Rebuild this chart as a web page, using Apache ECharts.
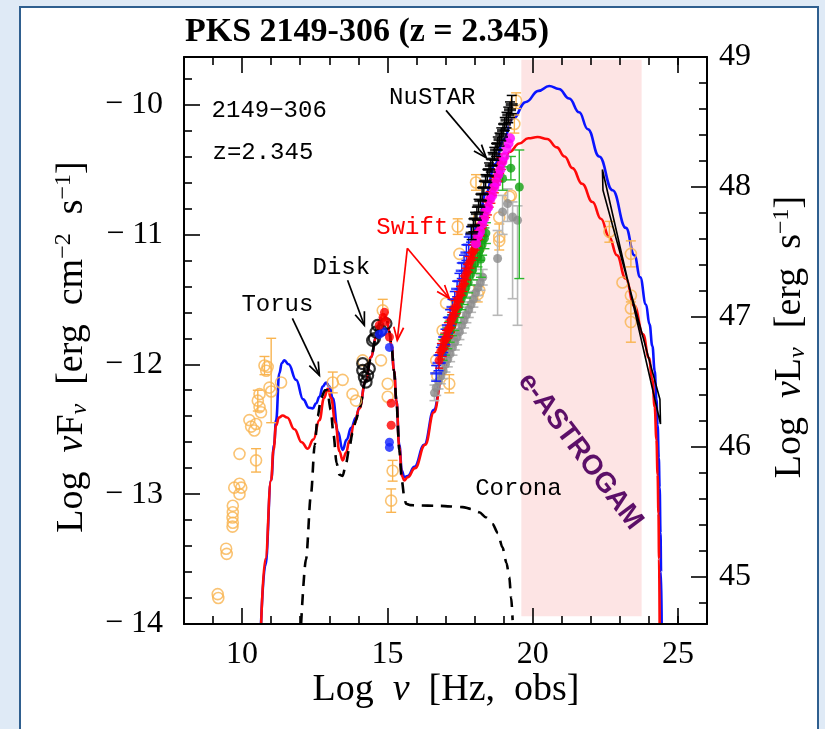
<!DOCTYPE html>
<html><head><meta charset="utf-8">
<script src="https://cdn.jsdelivr.net/npm/echarts@6/dist/echarts.min.js"></script>
<style>
html,body{margin:0;padding:0;background:#dfeaf6;width:825px;height:729px;overflow:hidden;}
#frame{position:absolute;left:19px;top:6px;width:800px;height:740px;background:#fff;border:2px solid #2f5f8f;box-sizing:border-box;}
#chart{position:absolute;left:0;top:0;width:825px;height:729px;}
</style></head><body><div id="frame"></div><div id="chart"></div>
<script>
// ---------- axis ranges & ticks ----------
const xRange = [8, 26];
const yRange = [-14, -9.634];
const lumOffset = 58.634;            // Log nuL_nu = Log nuF_nu + offset
const xMajorTicks = [10, 15, 20, 25];
const xMinorTicks = [9, 11, 12, 13, 14, 16, 17, 18, 19, 21, 22, 23, 24, 25];
const yLeftMajor = [-14, -13, -12, -11, -10];
const yLeftMinor = [-13.8, -13.6, -13.4, -13.2, -12.8, -12.6, -12.4, -12.2, -11.8, -11.6, -11.4, -11.2, -10.8, -10.6, -10.4, -10.2, -9.8];
const yRightMajor = [45, 46, 47, 48, 49];
const yRightMinor = [44.8, 45.2, 45.4, 45.6, 45.8, 46.2, 46.4, 46.6, 46.8, 47.2, 47.4, 47.6, 47.8, 48.2, 48.4, 48.6, 48.8];

// ---------- e-ASTROGAM band [x0, x1, y0, y1] ----------
const astrogamBand = [[19.61, 23.75, -13.94, -9.655]];

// ---------- models ----------
const modelBlue = [
  [10.65,-14.0],[10.8,-13.55],[11.0,-12.89],[11.1,-12.62],[11.17,-12.43],[11.28,-12.07],[11.37,-11.99],[11.455,-11.97],
  [11.6,-12.0],[11.86,-12.12],[12.1,-12.27],[12.3,-12.335],[12.43,-12.34],[12.55,-12.3],[12.66,-12.25],[12.78,-12.17],
  [12.89,-12.14],[13.0,-12.17],[13.12,-12.26],[13.3,-12.52],[13.46,-12.66],[13.6,-12.58],[13.75,-12.49],[13.92,-12.41],
  [14.04,-12.33],[14.25,-12.13],[14.44,-11.945],[14.61,-11.79],[14.78,-11.64],[14.88,-11.62],[14.98,-11.66],[15.07,-11.75],
  [15.14,-11.86],[15.23,-12.05],[15.31,-12.28],[15.41,-12.62],[15.5,-12.82],[15.58,-12.87],[15.7,-12.86],[15.93,-12.79],
  [16.27,-12.62],[16.6,-12.35],[16.9,-12.05],[17.2,-11.76],[17.5,-11.48],[17.8,-11.2],[18.1,-10.93],[18.4,-10.68],
  [18.7,-10.46],[19.0,-10.27],[19.31,-10.11],[19.77,-9.98],[20.2,-9.895],[20.57,-9.857],[20.9,-9.88],[21.26,-9.954],
  [21.6,-10.06],[21.9,-10.19],[22.29,-10.4],[22.75,-10.66],[23.21,-10.95],[23.5,-11.16],[23.7,-11.33],[23.9,-11.54],
  [24.02,-11.69],[24.12,-11.86],[24.2,-12.05],[24.26,-12.27],[24.3,-12.47],[24.34,-12.72],[24.37,-12.95],[24.4,-13.3],
  [24.42,-13.6],[24.44,-14.0]
];
const modelRed = [
  [10.654,-14.0],[10.8,-13.5],[10.998,-12.894],[11.08,-12.66],[11.17,-12.47],[11.27,-12.41],[11.397,-12.394],[11.55,-12.41],
  [11.8,-12.5],[12.05,-12.6],[12.257,-12.65],[12.45,-12.58],[12.66,-12.43],[12.82,-12.26],[12.945,-12.188],[13.06,-12.26],
  [13.21,-12.45],[13.35,-12.67],[13.46,-12.74],[13.58,-12.68],[13.69,-12.59],[13.86,-12.46],[14.035,-12.34],[14.25,-12.13],
  [14.44,-11.945],[14.61,-11.79],[14.78,-11.64],[14.88,-11.62],[14.98,-11.66],[15.07,-11.75],[15.14,-11.86],[15.23,-12.05],
  [15.31,-12.28],[15.41,-12.64],[15.5,-12.86],[15.58,-12.894],[15.7,-12.87],[15.95,-12.8],[16.3,-12.62],[16.6,-12.37],
  [16.9,-12.08],[17.2,-11.8],[17.5,-11.55],[17.8,-11.3],[18.1,-11.06],[18.4,-10.83],[18.7,-10.63],[19.0,-10.46],
  [19.2,-10.365],[19.54,-10.3],[19.85,-10.26],[20.17,-10.25],[20.5,-10.265],[20.83,-10.33],[21.1,-10.4],[21.37,-10.49],
  [21.7,-10.61],[22.06,-10.75],[22.35,-10.88],[22.635,-11.02],[22.9,-11.16],[23.2,-11.34],[23.5,-11.55],[23.8,-11.77],
  [24.0,-11.95],[24.12,-12.12],[24.2,-12.33],[24.26,-12.58],[24.3,-12.85],[24.33,-13.15],[24.35,-13.5],[24.37,-14.0]
];
const modelComponents = [
  [12.03,-14.0],[12.2,-13.5],[12.37,-13.0],[12.5,-12.62],[12.6,-12.4],[12.72,-12.26],[12.85,-12.2],[12.93,-12.2],
  [13.05,-12.35],[13.15,-12.55],[13.25,-12.76],[13.35,-12.85],[13.46,-12.86],[13.58,-12.76],[13.69,-12.64],[13.8,-12.53],
  [13.92,-12.43],[14.035,-12.34],[14.25,-12.13],[14.44,-11.945],[14.61,-11.79],[14.78,-11.64],[14.88,-11.62],[14.98,-11.66],
  [15.07,-11.75],[15.14,-11.86],[15.23,-12.05],[15.31,-12.28],[15.41,-12.66],[15.5,-12.9],[15.58,-13.02],[15.64,-13.074],
  [15.8,-13.085],[15.985,-13.087],[16.79,-13.09],[17.59,-13.1],[17.9,-13.115],[18.16,-13.14],[18.4,-13.18],[18.62,-13.23],
  [18.8,-13.3],[18.96,-13.41],[19.1,-13.53],[19.195,-13.64],[19.26,-13.8],[19.31,-13.97]
];
const fermiBowtie = [[22.40,-10.50],[24.40,-12.46],[24.38,-12.27],[22.42,-10.66],[22.40,-10.50]];

// ---------- data: [x, y, errLow, errHigh] ----------
const archival = [
  [9.16,-13.77,null,null],[9.18,-13.8,null,null],[9.45,-13.42,null,null],[9.47,-13.46,null,null],
  [9.68,-13.09,null,null],[9.68,-13.14,null,null],[9.67,-13.18,null,null],[9.68,-13.22,null,null],[9.67,-13.25,null,null],
  [9.73,-12.95,null,null],[9.91,-12.92,null,null],[9.97,-12.95,null,null],[9.91,-13.0,null,null],[9.91,-12.69,null,null],
  [10.25,-12.43,null,null],[10.31,-12.48,null,null],[10.42,-12.51,null,null],[10.48,-12.46,null,null],
  [10.48,-12.74,-12.83,-12.65],[10.54,-12.28,-12.36,-12.2],[10.6,-12.23,null,null],[10.6,-12.33,null,null],
  [10.65,-12.37,null,null],[10.77,-12.01,-12.08,-11.94],[10.83,-12.05,null,null],[10.88,-12.02,null,null],
  [10.94,-12.18,null,null],[11.0,-12.21,-12.45,-11.8],[11.34,-12.14,null,null],
  [13.12,-12.14,-12.22,-12.06],[13.46,-12.12,null,null],[13.8,-12.23,null,null],[13.92,-12.28,null,null],
  [14.15,-11.97,null,null],[14.78,-11.97,null,null],[14.84,-11.585,-11.66,-11.5],[15.01,-12.15,null,null],
  [15.01,-12.25,null,null],[15.18,-12.82,-12.9,-12.74],[15.13,-13.05,-13.14,-12.96],
  [16.68,-11.97,null,null],[16.72,-12.09,null,null],[16.9,-11.74,null,null],[17.02,-11.53,null,null],
  [17.13,-12.15,-12.22,-12.08],[17.42,-10.94,-11.0,-10.88],[17.48,-11.15,null,null],[18.05,-10.6,-10.66,-10.54],
  [18.11,-11.46,-11.52,-11.4],[18.16,-10.87,null,null],[18.16,-11.1,null,null],[18.16,-11.43,null,null],
  [18.85,-10.87,null,null],[18.85,-11.02,-11.12,-10.92],[18.85,-11.05,null,null],[19.2,-10.71,null,null],
  [19.25,-10.7,null,null],[19.37,-10.15,-10.22,-10.08],[19.43,-9.97,-10.03,-9.91],
  [22.64,-10.98,-11.06,-10.9],[23.09,-11.37,null,null],[23.38,-11.15,-11.25,-11.05],[23.38,-11.47,null,null],
  [23.38,-11.57,null,null],[23.38,-11.675,-11.83,-11.52]
];
const diskOptical = [
  [14.15,-11.995],[14.15,-12.047],[14.207,-12.099],[14.266,-12.137],[14.32,-12.085],[14.379,-12.034],
  [14.49,-11.816],[14.551,-11.803],[14.61,-11.752],[14.665,-11.70],[14.78,-11.739],[14.95,-11.687]
];
const uvotRed = [[14.72,-11.70],[14.85,-11.64],[14.9,-11.6],[14.95,-11.67],[15.07,-11.79],[15.13,-12.30],[15.13,-12.47]];
const uvotBlue = [[14.72,-11.77],[14.86,-11.75],[15.07,-11.87],[15.07,-12.60],[15.07,-12.64]];
const xrtRed = [
  [16.78,-11.97,-12.03,-11.91],[16.84,-11.9,-11.96,-11.84],[16.9,-11.88,-11.94,-11.82],[16.96,-11.82,-11.88,-11.76],
  [17.02,-11.8,-11.86,-11.74],[17.08,-11.74,-11.8,-11.68],[17.14,-11.72,-11.78,-11.66],[17.2,-11.66,-11.72,-11.6],
  [17.26,-11.63,-11.69,-11.57],[17.32,-11.57,-11.63,-11.51],[17.38,-11.55,-11.61,-11.49],[17.44,-11.5,-11.56,-11.44],
  [17.5,-11.46,-11.52,-11.4],[17.56,-11.41,-11.47,-11.35],[17.62,-11.38,-11.44,-11.32],[17.68,-11.32,-11.38,-11.26],
  [17.74,-11.29,-11.35,-11.23],[17.8,-11.23,-11.29,-11.17],[17.86,-11.2,-11.26,-11.14],[17.92,-11.14,-11.2,-11.08],
  [17.98,-11.12,-11.18,-11.06],[18.04,-11.06,-11.12,-11.0],[18.1,-11.03,-11.09,-10.97],[18.16,-10.98,-11.04,-10.92],
  [18.22,-10.95,-11.01,-10.89],[18.28,-10.89,-10.95,-10.83],[18.34,-10.87,-10.93,-10.81],[18.4,-10.81,-10.87,-10.75],
  [18.46,-10.79,-10.85,-10.73],[18.52,-10.73,-10.79,-10.67],[18.58,-10.7,-10.76,-10.64],[18.64,-10.64,-10.7,-10.58],
  [18.7,-10.62,-10.68,-10.56],[18.76,-10.56,-10.62,-10.5],[18.82,-10.53,-10.59,-10.47],[18.88,-10.47,-10.53,-10.41],
  [18.94,-10.44,-10.5,-10.38]
];
const xrtBlue = [
  [16.68,-12.07,-12.13,-12.01],[16.76,-11.99,-12.05,-11.93],[16.84,-11.93,-11.99,-11.87],[16.92,-11.85,-11.91,-11.79],
  [17.0,-11.79,-11.85,-11.73],[17.08,-11.7,-11.76,-11.64],[17.16,-11.64,-11.7,-11.58],[17.24,-11.56,-11.62,-11.5],
  [17.32,-11.5,-11.56,-11.44],[17.4,-11.42,-11.48,-11.36],[17.48,-11.36,-11.42,-11.3],[17.56,-11.28,-11.34,-11.22],
  [17.64,-11.22,-11.28,-11.16],[17.72,-11.14,-11.2,-11.08],[17.8,-11.08,-11.14,-11.02],[17.88,-11.0,-11.06,-10.94]
];
const nustarBlack = [
  [17.9,-10.99,-11.04,-10.94],[17.96,-10.93,-10.98,-10.88],[18.02,-10.88,-10.93,-10.83],[18.08,-10.84,-10.89,-10.79],
  [18.14,-10.78,-10.83,-10.73],[18.2,-10.74,-10.79,-10.69],[18.26,-10.69,-10.74,-10.64],[18.32,-10.64,-10.69,-10.59],
  [18.38,-10.59,-10.64,-10.54],[18.44,-10.55,-10.6,-10.5],[18.5,-10.5,-10.55,-10.45],[18.56,-10.47,-10.52,-10.42],
  [18.62,-10.42,-10.47,-10.37],[18.68,-10.38,-10.43,-10.33],[18.74,-10.35,-10.4,-10.3],[18.8,-10.3,-10.35,-10.25],
  [18.86,-10.27,-10.32,-10.22],[18.92,-10.23,-10.28,-10.18],[18.98,-10.2,-10.25,-10.15],[19.04,-10.15,-10.2,-10.1],
  [19.1,-10.12,-10.18,-10.06],[19.16,-10.08,-10.14,-10.02],[19.22,-10.04,-10.1,-9.98],[19.28,-10.0,-10.07,-9.93]
];
const nustarMagenta = [
  [18.05,-11.07],[18.12,-11.01],[18.19,-10.98],[18.26,-10.92],[18.33,-10.88],[18.4,-10.82],[18.47,-10.79],[18.54,-10.73],
  [18.61,-10.7],[18.68,-10.64],[18.75,-10.6],[18.82,-10.54],[18.89,-10.5],[18.96,-10.44],[19.03,-10.4],[19.1,-10.34],
  [19.17,-10.3],[19.22,-10.26]
];
const hardGreen = [
  [16.9,-11.89,-11.97,-11.81],[16.98,-11.85,-11.93,-11.77],[17.06,-11.8,-11.88,-11.72],[17.14,-11.75,-11.83,-11.67],
  [17.22,-11.7,-11.78,-11.62],[17.3,-11.66,-11.74,-11.58],[17.38,-11.6,-11.68,-11.52],[17.46,-11.56,-11.64,-11.48],
  [17.54,-11.5,-11.58,-11.42],[17.62,-11.46,-11.54,-11.38],[17.7,-11.41,-11.49,-11.33],[17.78,-11.37,-11.45,-11.29],
  [17.86,-11.31,-11.39,-11.23],[17.94,-11.27,-11.35,-11.19],[18.02,-11.22,-11.3,-11.14],[18.1,-11.17,-11.25,-11.09],
  [18.18,-11.12,-11.2,-11.04],[18.22,-11.19,-11.33,-11.05],[18.26,-11.08,-11.16,-11.0],[18.34,-11.03,-11.11,-10.95],
  [18.39,-10.99,-11.07,-10.91],[18.965,-10.57,-10.66,-10.48],[19.25,-10.49,-10.58,-10.4],[19.54,-10.635,-11.34,-10.35]
];
const hardGray = [
  [16.62,-12.22,-12.28,-12.16],[16.68,-12.18,-12.24,-12.12],[16.76,-12.13,-12.19,-12.07],[16.84,-12.09,-12.15,-12.03],
  [16.92,-12.05,-12.11,-11.99],[17.0,-12.0,-12.06,-11.94],[17.08,-11.96,-12.02,-11.9],[17.16,-11.92,-11.98,-11.86],
  [17.24,-11.87,-11.93,-11.81],[17.32,-11.83,-11.89,-11.77],[17.4,-11.79,-11.85,-11.73],[17.48,-11.75,-11.81,-11.69],
  [17.56,-11.7,-11.76,-11.64],[17.64,-11.66,-11.72,-11.6],[17.72,-11.62,-11.68,-11.56],[17.8,-11.58,-11.64,-11.52],
  [17.88,-11.54,-11.6,-11.48],[17.96,-11.5,-11.56,-11.44],[18.04,-11.45,-11.51,-11.39],[18.12,-11.41,-11.47,-11.35],
  [18.2,-11.37,-11.43,-11.31],[18.28,-11.33,-11.39,-11.27],
  [18.793,-11.186,-11.623,-10.97],[18.965,-10.827,-11.0,-10.7],[19.137,-10.763,-10.9,-10.65],
  [19.309,-10.866,-11.495,-10.75],[19.48,-10.891,-11.7,-10.78]
];

// ---------- annotations ----------
const labelTexts = ['2149\u2212306', 'z=2.345', 'NuSTAR', 'Disk', 'Torus', 'Corona'];
const labelPos = [[8.95, -10.045], [8.98, -10.369], [16.546, -9.945], [13.416, -11.253], [11.214, -11.538], [19.51, -12.956]];
const labelAlign = ['left', 'left', 'center', 'center', 'center', 'center'];
const swiftText = 'Swift';
const swiftPos = [[15.857, -10.946]];
const astroText = 'e-ASTROGAM';
const astroPos = [[21.637, -12.671]];
const arrowsBlack = [[17.018, -10.045, 18.4, -10.41], [13.63, -11.353, 14.207, -11.70], [11.73, -11.647, 12.66, -12.086]];
const arrowsRed = [[15.686, -11.107, 17.13, -11.492], [15.686, -11.107, 15.34, -11.815]];

// ---------- helpers ----------
const ORANGE = '#f9b450';
function errRows(rows) { return rows.filter(r => r[2] != null).map(r => [r[0], r[2], r[3]]); }
function errSeries(rows, color, cap, z, width) {
  return {
    type: 'custom', xAxisIndex: 0, yAxisIndex: 0, z: z, clip: true, silent: true,
    data: errRows(rows),
    renderItem: function (params, api) {
      const x = api.value(0);
      const p1 = api.coord([x, api.value(1)]);
      const p2 = api.coord([x, api.value(2)]);
      const st = { stroke: color, lineWidth: width || 1.3 };
      return { type: 'group', children: [
        { type: 'line', shape: { x1: p1[0], y1: p1[1], x2: p2[0], y2: p2[1] }, style: st },
        { type: 'line', shape: { x1: p1[0] - cap, y1: p1[1], x2: p1[0] + cap, y2: p1[1] }, style: st },
        { type: 'line', shape: { x1: p2[0] - cap, y1: p2[1], x2: p2[0] + cap, y2: p2[1] }, style: st }
      ] };
    }
  };
}
function scatter(rows, opts) {
  return Object.assign({
    type: 'scatter', xAxisIndex: 0, yAxisIndex: 0, silent: true, animation: false,
    data: rows.map(r => [r[0], r[1]])
  }, opts);
}
function arrowSeries(rows, color) {
  return {
    type: 'custom', xAxisIndex: 0, yAxisIndex: 0, z: 20, silent: true, data: rows,
    renderItem: function (params, api) {
      const a = api.coord([api.value(0), api.value(1)]);
      const b = api.coord([api.value(2), api.value(3)]);
      const ang = Math.atan2(b[1] - a[1], b[0] - a[0]);
      const L = 14, w = 0.36;
      const h1 = [b[0] - L * Math.cos(ang - w), b[1] - L * Math.sin(ang - w)];
      const h2 = [b[0] - L * Math.cos(ang + w), b[1] - L * Math.sin(ang + w)];
      const st = { stroke: color, lineWidth: 1.7, fill: null };
      return { type: 'group', children: [
        { type: 'line', shape: { x1: a[0], y1: a[1], x2: b[0], y2: b[1] }, style: st },
        { type: 'polyline', shape: { points: [h1, b, h2] }, style: st }
      ] };
    }
  };
}
function textSeries(pos, texts, aligns, color, font, rot) {
  return {
    type: 'custom', xAxisIndex: 0, yAxisIndex: 0, z: 21, silent: true, data: pos,
    renderItem: function (params, api) {
      const p = api.coord([api.value(0), api.value(1)]);
      return { type: 'text', x: p[0], y: p[1], rotation: rot || 0,
        style: { text: texts[params.dataIndex], fill: color, font: font,
          align: aligns ? aligns[params.dataIndex] : 'center', verticalAlign: 'middle' } };
    }
  };
}

const SERIF = '"Liberation Serif", "Times New Roman", serif';
const MONO = '"Liberation Mono", "Courier New", monospace';
const minus = v => (v < 0 ? '\u2212 ' : '') + Math.abs(v);

function xAxisDef(pos, ticks, len, labels, line) {
  return {
    type: 'value', min: xRange[0], max: xRange[1], position: pos, z: 30,
    axisLine: { show: line, onZero: false, lineStyle: { color: '#000', width: 2 } },
    axisTick: { show: true, inside: true, length: len, customValues: ticks, lineStyle: { color: '#000', width: 1.6 } },
    axisLabel: labels ? { show: true, customValues: ticks, margin: 15, color: '#000', fontFamily: SERIF, fontSize: 32 } : { show: false },
    splitLine: { show: false }
  };
}
function yAxisDef(pos, mn, mx, ticks, len, labels, line, fmt, margin) {
  return {
    type: 'value', min: mn, max: mx, position: pos, z: 30,
    axisLine: { show: line, onZero: false, lineStyle: { color: '#000', width: 2 } },
    axisTick: { show: true, inside: true, length: len, customValues: ticks, lineStyle: { color: '#000', width: 1.6 } },
    axisLabel: labels ? { show: true, customValues: ticks, margin: margin, color: '#000', fontFamily: SERIF, fontSize: 32, formatter: fmt } : { show: false },
    splitLine: { show: false }
  };
}

const nameRich = {
  n: { font: '38px ' + SERIF, fill: '#000', lineHeight: 52, verticalAlign: 'middle' },
  i: { font: 'italic 38px ' + SERIF, fill: '#000', lineHeight: 52, verticalAlign: 'middle' },
  sub: { font: 'italic 24px ' + SERIF, fill: '#000', lineHeight: 52, verticalAlign: 'bottom', padding: [0, 0, 6, 0] },
  sup: { font: '24px ' + SERIF, fill: '#000', lineHeight: 52, verticalAlign: 'top', padding: [6, 0, 0, 0] }
};
const SP = '\u2002';

const chart = echarts.init(document.getElementById('chart'), null, { renderer: 'canvas' });
const option = {
  animation: false,
  backgroundColor: 'transparent',
  grid: { left: 184, right: 118, top: 57, bottom: 105, containLabel: false },
  xAxis: [
    xAxisDef('bottom', xMajorTicks, 16, true, true),
    xAxisDef('bottom', xMinorTicks, 8, false, false),
    xAxisDef('top', xMajorTicks, 16, false, true),
    xAxisDef('top', xMinorTicks, 8, false, false)
  ],
  yAxis: [
    yAxisDef('left', yRange[0], yRange[1], yLeftMajor, 16, true, true, minus, 21),
    yAxisDef('left', yRange[0], yRange[1], yLeftMinor, 8, false, false),
    yAxisDef('right', yRange[0] + lumOffset, yRange[1] + lumOffset, yRightMajor, 16, true, true, v => String(v), 12),
    yAxisDef('right', yRange[0] + lumOffset, yRange[1] + lumOffset, yRightMinor, 8, false, false)
  ],
  graphic: [
    { type: 'text', x: 367, y: 32, style: { text: 'PKS 2149-306 (z = 2.345)', font: 'bold 34px ' + SERIF, fill: '#000', align: 'center', verticalAlign: 'middle' } },
    { type: 'text', x: 446, y: 690,
      style: { text: '{n|Log' + SP + '}{i|\u03bd}{n|' + SP + '[Hz,' + SP + 'obs]}', align: 'center', verticalAlign: 'middle', rich: nameRich } },
    { type: 'text', x: 72, y: 347, rotation: Math.PI / 2,
      style: { text: '{n|Log' + SP + '}{i|\u03bd}{n|F}{sub|\u03bd}{n|' + SP + '[erg' + SP + 'cm}{sup|\u22122}{n|' + SP + 's}{sup|\u22121}{n|]}',
        align: 'center', verticalAlign: 'middle', rich: nameRich } },
    { type: 'text', x: 790, y: 337, rotation: Math.PI / 2,
      style: { text: '{n|Log' + SP + '}{i|\u03bd}{n|L}{sub|\u03bd}{n|' + SP + '[erg' + SP + 's}{sup|\u22121}{n|]}',
        align: 'center', verticalAlign: 'middle', rich: nameRich } }
  ],
  series: [
    { type: 'custom', xAxisIndex: 0, yAxisIndex: 0, z: 1, silent: true, data: astrogamBand,
      renderItem: function (params, api) {
        const a = api.coord([api.value(0), api.value(3)]);
        const b = api.coord([api.value(1), api.value(2)]);
        return { type: 'rect', shape: { x: a[0], y: a[1], width: b[0] - a[0], height: b[1] - a[1] }, style: { fill: '#fde4e4' } };
      } },
    { type: 'line', data: modelBlue, xAxisIndex: 0, yAxisIndex: 0, z: 3, showSymbol: false, smooth: 0.45, smoothMonotone: 'x', clip: true, silent: true,
      lineStyle: { color: '#0a14ff', width: 2.6 } },
    { type: 'line', data: modelRed, xAxisIndex: 0, yAxisIndex: 0, z: 4, showSymbol: false, smooth: 0.45, smoothMonotone: 'x', clip: true, silent: true,
      lineStyle: { color: '#ff0a0a', width: 2.6 } },
    { type: 'line', data: modelComponents, xAxisIndex: 0, yAxisIndex: 0, z: 5, showSymbol: false, smooth: 0.3, smoothMonotone: 'x', clip: true, silent: true,
      lineStyle: { color: '#000', width: 2.6, type: [11, 8] } },
    errSeries(archival, ORANGE, 5, 6, 1.4),
    scatter(archival, { z: 7, symbol: 'circle', symbolSize: 11, itemStyle: { color: 'rgba(255,255,255,0)', borderColor: ORANGE, borderWidth: 1.6 } }),
    errSeries(hardGray, '#b8b8b8', 5, 8, 1.6),
    scatter(hardGray, { z: 9, symbol: 'circle', symbolSize: 9, itemStyle: { color: '#8c8c8c' } }),
    errSeries(hardGreen, '#2db82d', 5, 10, 1.4),
    scatter(hardGreen, { z: 11, symbol: 'circle', symbolSize: 9, itemStyle: { color: '#12a012' } }),
    errSeries(xrtBlue, '#1020ff', 5, 12, 1.5),
    scatter(xrtBlue, { z: 12, symbol: 'rect', symbolSize: [12, 2.5], itemStyle: { color: '#1020ff' } }),
    errSeries(xrtRed, '#ff0000', 4, 13, 1.3),
    scatter(xrtRed, { z: 13, symbol: 'circle', symbolSize: 9, itemStyle: { color: '#ff0000' } }),
    scatter(nustarMagenta, { z: 14, symbol: 'circle', symbolSize: 10, itemStyle: { color: '#ff00ff' } }),
    errSeries(nustarBlack, '#000', 5, 15, 1.5),
    scatter(nustarBlack, { z: 15, symbol: 'rect', symbolSize: [12, 3], itemStyle: { color: '#000' } }),
    scatter(diskOptical, { z: 16, symbol: 'circle', symbolSize: 11, itemStyle: { color: 'rgba(255,255,255,0)', borderColor: '#000', borderWidth: 2.2 } }),
    scatter(uvotBlue, { z: 17, symbol: 'circle', symbolSize: 9, itemStyle: { color: '#1020ff' } }),
    scatter(uvotRed, { z: 18, symbol: 'circle', symbolSize: 9, itemStyle: { color: '#ff0000' } }),
    { type: 'line', data: fermiBowtie, xAxisIndex: 0, yAxisIndex: 0, z: 19, showSymbol: false, clip: true, silent: true,
      lineStyle: { color: '#000', width: 1.6 } },
    arrowSeries(arrowsBlack, '#000'),
    arrowSeries(arrowsRed, '#ff0000'),
    textSeries(labelPos, labelTexts, labelAlign, '#000', '24px ' + MONO),
    textSeries(swiftPos, [swiftText], null, '#ff0000', '24px ' + MONO),
    textSeries(astroPos, [astroText], null, '#5c0f68', 'bold 28px "Liberation Sans", Arial, sans-serif', -53 * Math.PI / 180)
  ]
};
chart.setOption(option);
</script></body></html>
